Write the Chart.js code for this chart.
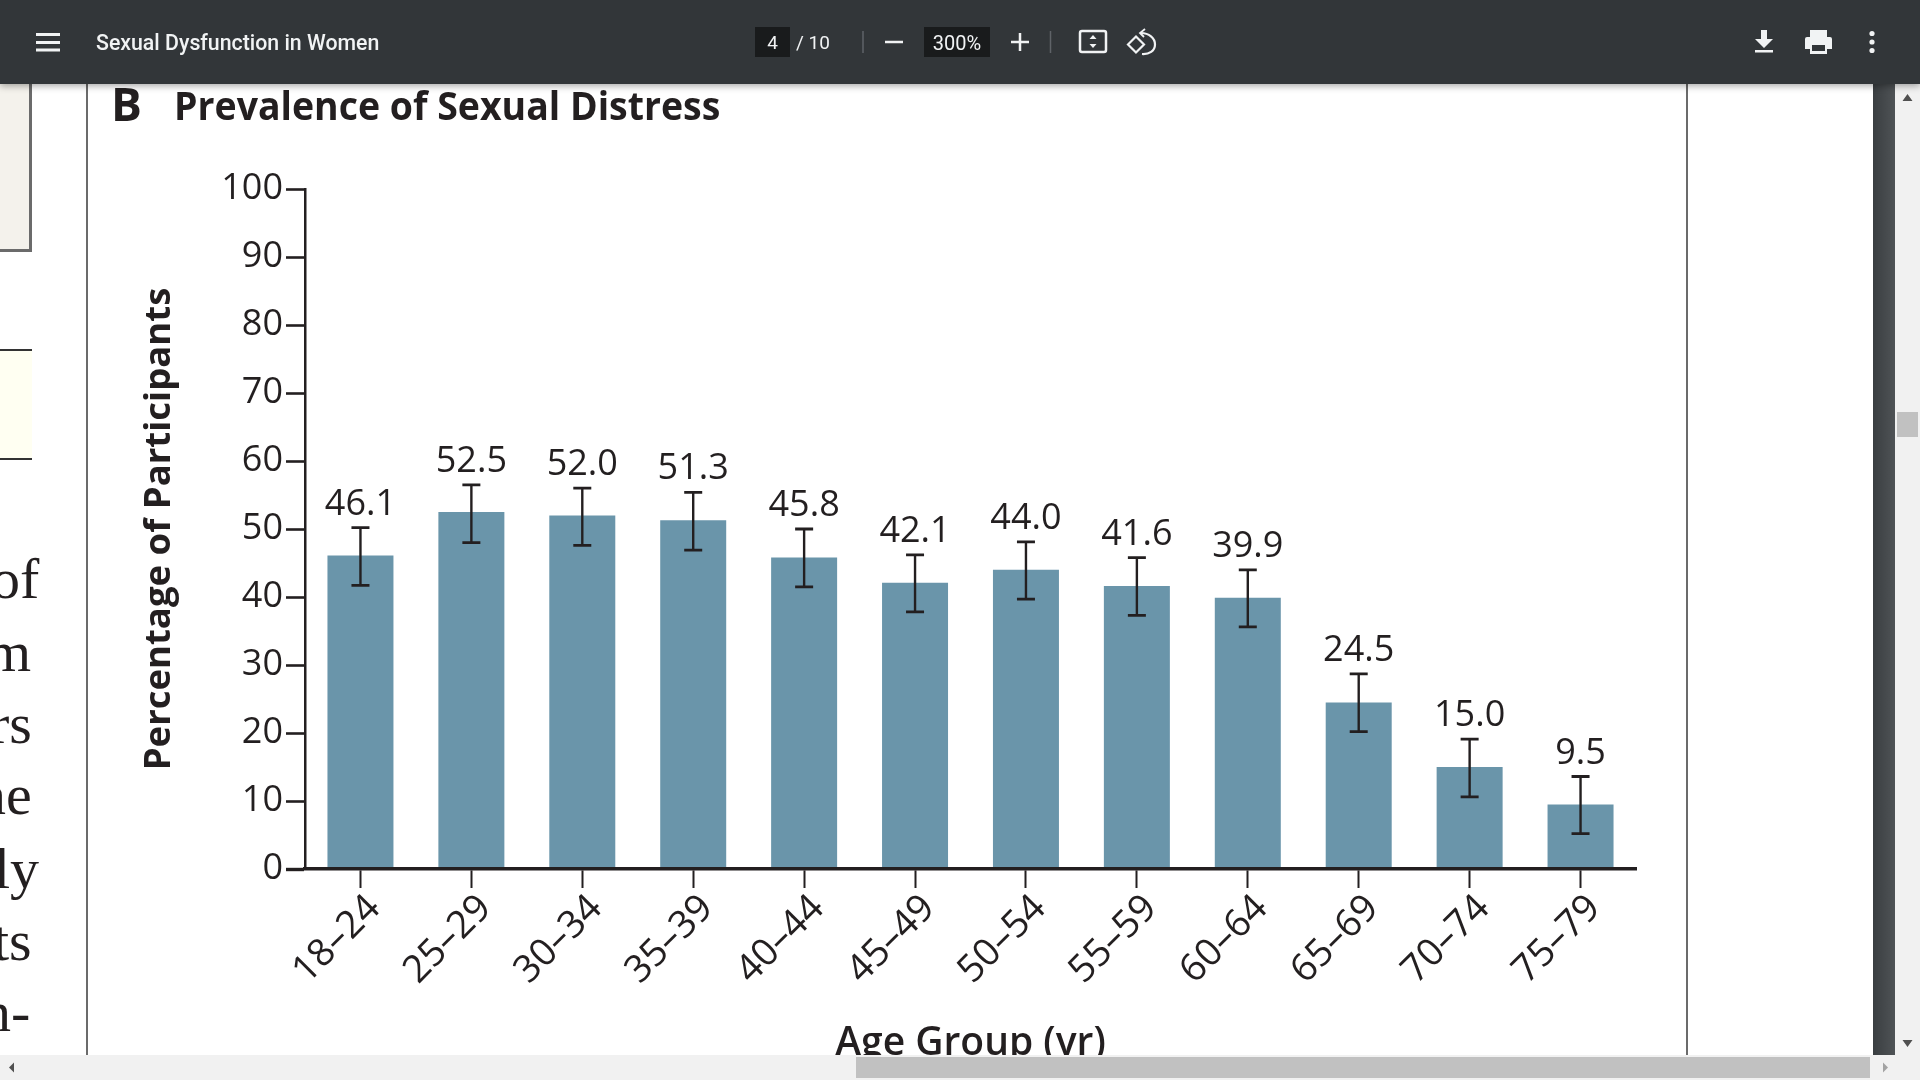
<!DOCTYPE html>
<html><head><meta charset="utf-8">
<script src="https://cdn.jsdelivr.net/npm/chart.js@4"></script>
<style>
html,body{margin:0;padding:0;width:1920px;height:1080px;overflow:hidden;background:#fff}
.a{position:absolute}
#c{position:absolute;left:0;top:0;width:1920px;height:1080px}
.t{position:absolute;white-space:nowrap;font-family:Roboto,sans-serif;color:#f1f3f4}
.frag{position:absolute;font-family:"Liberation Serif",serif;font-size:58px;line-height:72px;color:#231f20;white-space:nowrap}
</style></head><body>
<canvas id="c" width="1920" height="1080"></canvas>

<!-- left page fragments -->
<div class="a" style="left:0;top:84px;width:29px;height:165px;background:#f4f2ec;border-right:3px solid #6b6b6b;border-bottom:3px solid #6b6b6b"></div>
<div class="a" style="left:0;top:349px;width:32px;height:107px;background:#fffff2;border-top:2px solid #333;border-bottom:2px solid #333"></div>
<div class="frag" style="left:-9px;top:543px;">of</div>
<div class="frag" style="left:-14px;top:616px;">m</div>
<div class="frag" style="left:-10px;top:688px;">rs</div>
<div class="frag" style="left:-23px;top:759px;">ne</div>
<div class="frag" style="left:-6px;top:833px;">ly</div>
<div class="frag" style="left:-7px;top:905px;">ts</div>
<div class="frag" style="left:-18px;top:976px;">n-</div>
<div class="a" style="left:86px;top:84px;width:2px;height:971px;background:#6b6b6b"></div>
<div class="a" style="left:1686px;top:84px;width:2px;height:971px;background:#6b6b6b"></div>

<!-- figure heading -->
<div class="a" style="left:111px;top:75px;font:700 46px 'Open Sans',sans-serif;color:#231f20;line-height:56px">B</div>
<div class="a" id="ttl" style="left:174px;top:78px;font:700 39px 'Open Sans',sans-serif;color:#231f20;line-height:54px;white-space:nowrap;transform-origin:left center;transform:scaleX(.96)">Prevalence of Sexual Distress</div>

<!-- viewer side strip and scrollbars -->
<div class="a" style="left:1873px;top:84px;width:22px;height:971px;background:linear-gradient(90deg,#3a3e41,#4f5356)"></div>
<div class="a" style="left:1895px;top:84px;width:25px;height:971px;background:#f1f1f1"></div>
<div class="a" style="left:1897px;top:412px;width:21px;height:25px;background:#c1c1c1"></div>
<svg class="a" style="left:1895px;top:84px" width="25" height="971"><path d="M12.5 10l5 7h-10zM12.5 963l5-7h-10z" fill="#505050"/></svg>
<div class="a" style="left:0;top:1055px;width:1920px;height:25px;background:#f1f1f1"></div>
<div class="a" style="left:856px;top:1057px;width:1014px;height:21px;background:#c1c1c1"></div>
<svg class="a" style="left:0;top:1055px" width="1920" height="25"><path d="M9 12.5l5-5v10z" fill="#505050"/><path d="M1888 12.5l-5-5v10z" fill="#a3a3a3"/></svg>

<!-- toolbar -->
<div class="a" style="left:0;top:0;width:1920px;height:84px;background:#323639;box-shadow:0 2px 7px rgba(0,0,0,.35)"></div>
<svg class="a" style="left:0;top:0" width="1920" height="84" fill="none" stroke="#f1f3f4">
  <path d="M36 34.5h24M36 42.500h24M36 50h24" stroke-width="2.8"/>
  <rect x="755" y="27" width="35" height="30" fill="#191b1c" stroke="none"/>
  <rect x="924" y="27" width="66" height="30" fill="#191b1c" stroke="none"/>
  <path d="M863 31v22M1050.500 31v22" stroke="#5f6368" stroke-width="1.500"/>
  <path d="M885 42h18M1011 42h18M1020 33v18" stroke-width="2.500"/>
  <rect x="1080" y="31" width="26" height="21" rx="2" stroke-width="2.500"/>
  <path d="M1093 35l3.500 4h-7zM1093 48l3.500-4h-7z" fill="#f1f3f4" stroke="none"/>
  <path d="M1128 44.500l8-8 8 8-8 8z" stroke-width="2.200"/>
  <path d="M1141 33c8 0 14 5 14 11.500s-6 10-13 9.500" stroke-width="2.200"/>
  <path d="M1145 29l-5 4 4 4" stroke-width="1.800"/>
  <path d="M1761 30h6v9h6l-9 9-9-9h6zM1755 50h18v2.500h-18z" fill="#f1f3f4" stroke="none"/>
  <path d="M1810 30h17v7h-17zM1805 39q0-2 2-2h23q2 0 2 2v10h-5v5h-17v-5h-5zM1812 45v6h13v-6z" fill="#f1f3f4" stroke="none" fill-rule="evenodd"/>
  <circle cx="1872" cy="33.500" r="2.600" fill="#f1f3f4" stroke="none"/><circle cx="1872" cy="42" r="2.600" fill="#f1f3f4" stroke="none"/><circle cx="1872" cy="50.500" r="2.600" fill="#f1f3f4" stroke="none"/>
</svg>
<div class="t" style="left:96px;top:31px;font-size:21.3px;font-weight:500;line-height:24px">Sexual Dysfunction in Women</div>
<div class="t" style="left:755px;top:31px;width:35px;text-align:center;font-size:19px;line-height:24px">4</div>
<div class="t" style="left:796px;top:31px;font-size:19px;line-height:24px">/ 10</div>
<div class="t" style="left:924px;top:31px;width:66px;text-align:center;font-size:20px;line-height:24px">300%</div>

<script>
const ageGroups = ['18–24','25–29','30–34','35–39','40–44','45–49','50–54','55–59','60–64','65–69','70–74','75–79'];
const prevalence = [46.1,52.5,52.0,51.3,45.8,42.1,44.0,41.6,39.9,24.5,15.0,9.5];
const ciLow  = [41.7,48.0,47.6,46.9,41.5,37.8,39.7,37.3,35.6,20.2,10.6,5.2];
const ciHigh = [50.2,56.5,56.0,55.4,50.0,46.2,48.1,45.8,44.0,28.7,19.1,13.6];
const yTicks = [0,10,20,30,40,50,60,70,80,90,100];

const INK = '#231f20';
const FONT = "'Open Sans', sans-serif";

const errorBars = {
  id:'errorBars',
  afterDatasetsDraw(chart){
    const {ctx, scales:{x,y}} = chart;
    ctx.save();
    ctx.strokeStyle = INK;
    ctx.fillStyle = INK;
    ciLow.forEach((lo,i)=>{
      const px = x.getPixelForValue(i), pl = y.getPixelForValue(lo), ph = y.getPixelForValue(ciHigh[i]);
      ctx.lineWidth = 2.4;
      ctx.beginPath(); ctx.moveTo(px,pl); ctx.lineTo(px,ph); ctx.stroke();
      ctx.lineWidth = 2.8;
      ctx.beginPath();
      ctx.moveTo(px-9,pl); ctx.lineTo(px+9,pl);
      ctx.moveTo(px-9,ph); ctx.lineTo(px+9,ph);
      ctx.stroke();
      ctx.font = '36px '+FONT;
      ctx.textAlign = 'center';
      ctx.textBaseline = 'alphabetic';
      ctx.fillText(prevalence[i].toFixed(1), px, ph-13);
    });
    ctx.restore();
  }
};

new Chart(document.getElementById('c'),{
  type:'bar',
  data:{labels:ageGroups,datasets:[{data:prevalence,backgroundColor:'#6a95aa',borderWidth:0,barPercentage:0.595,categoryPercentage:1}]},
  plugins:[errorBars],
  options:{
    responsive:false,animation:false,devicePixelRatio:1,
    layout:{padding:{left:138,top:189,right:284,bottom:13}},
    plugins:{legend:{display:false},tooltip:{enabled:false},title:{display:false}},
    scales:{
      x:{
        type:'category',
        afterFit(s){s.height=198},
        border:{display:true,color:INK,width:3.4,z:1},
        grid:{display:true,drawOnChartArea:false,drawTicks:true,tickLength:19,tickWidth:2,tickColor:INK,offset:false,z:1},
        ticks:{color:INK,font:{family:FONT,size:38},minRotation:45,maxRotation:45,padding:-2,labelOffset:14,autoSkip:false},
        title:{display:true,text:'Age Group (yr)',color:INK,font:{family:FONT,size:39,weight:'600'},padding:0}
      },
      y:{
        min:0,max:100,
        afterFit(s){s.width=167},
        afterBuildTicks(s){s.ticks=yTicks.map(v=>({value:v}))},
        border:{display:true,color:INK,width:2.5,z:1},
        grid:{display:true,drawOnChartArea:false,drawTicks:true,tickLength:19,tickWidth:c=>c.tick.value===0?3.4:2.6,tickColor:INK,z:1},
        ticks:{color:INK,font:{family:FONT,size:36},padding:3,autoSkip:false},
        title:{display:true,text:'Percentage of Participants',color:INK,font:{family:FONT,size:36.5,weight:'bold'},padding:0}
      }
    }
  }
});
</script>
</body></html>
